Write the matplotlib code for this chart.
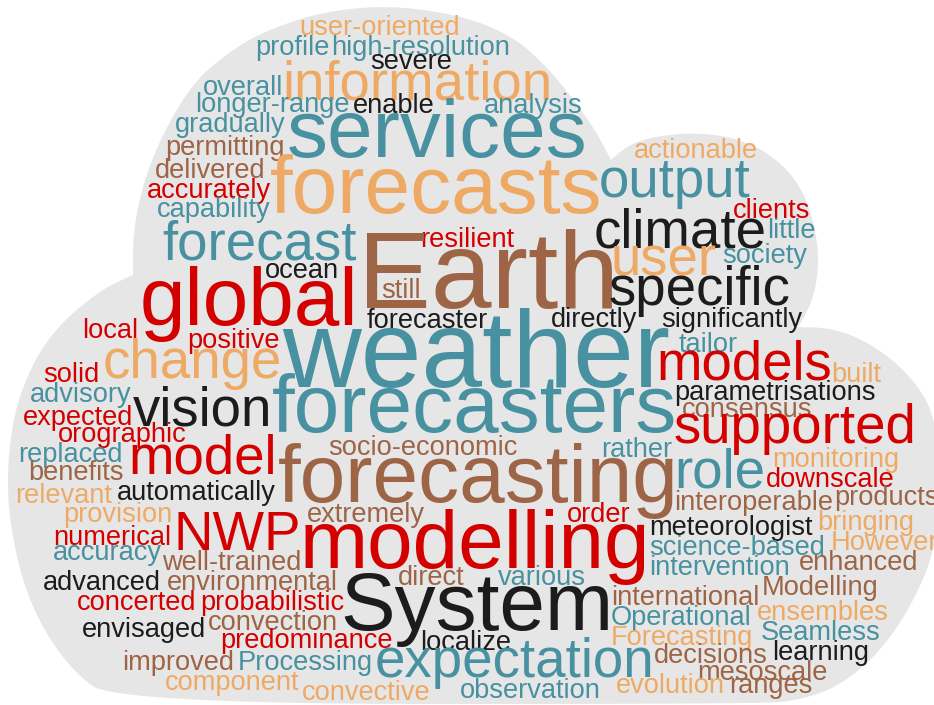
import matplotlib
matplotlib.use("Agg")
import matplotlib.pyplot as plt
import numpy as np
from matplotlib.patches import Polygon

# ---------------- data ----------------
words = ["user-oriented", "profile", "high-resolution", "severe", "information", "overall",
         "longer-range", "enable", "analysis", "gradually", "services", "permitting",
         "delivered", "actionable", "forecasts", "accurately", "output", "capability",
         "clients", "climate", "little", "forecast", "resilient", "Earth", "ocean", "user",
         "society", "global", "still", "specific", "local", "forecaster", "directly",
         "significantly", "positive", "weather", "tailor", "change", "models", "built",
         "solid", "advisory", "parametrisations", "vision", "forecasters", "consensus",
         "expected", "supported", "orographic", "replaced", "socio-economic", "rather",
         "model", "monitoring", "benefits", "forecasting", "role", "downscale", "relevant",
         "automatically", "interoperable", "products", "provision", "extremely", "order",
         "NWP", "modelling", "bringing", "numerical", "meteorologist", "However", "accuracy",
         "science-based", "well-trained", "intervention", "enhanced", "advanced",
         "environmental", "direct", "various", "Modelling", "concerted", "probabilistic",
         "System", "international", "Operational", "ensembles", "envisaged", "convection",
         "Forecasting", "Seamless", "predominance", "localize", "improved", "Processing",
         "expectation", "decisions", "learning", "mesoscale", "component", "convective",
         "observation", "evolution", "ranges"]

counts = [1, 1, 1, 1, 2, 1,
          1, 1, 1, 1, 3, 1,
          1, 1, 3, 1, 2, 1,
          1, 2, 1, 2, 1, 4, 1, 2,
          1, 3, 1, 2, 1, 1, 1,
          1, 1, 4, 1, 2, 2, 1,
          1, 1, 1, 2, 3, 1,
          1, 2, 1, 1, 1, 1,
          2, 1, 1, 3, 2, 1, 1,
          1, 1, 1, 1, 1, 1,
          2, 3, 1, 1, 1, 1, 1,
          1, 1, 1, 1, 1,
          1, 1, 1, 1, 1, 1,
          3, 1, 1, 1, 1, 1,
          1, 1, 1, 1, 1, 1,
          2, 1, 1, 1, 1, 1,
          1, 1, 1]

groups = ["O", "T", "T", "K", "O", "T",
          "T", "K", "T", "T", "T", "B",
          "B", "O", "O", "R", "T", "T",
          "R", "K", "T", "T", "R", "B", "K", "O",
          "T", "R", "B", "K", "R", "K", "K",
          "K", "R", "T", "T", "O", "R", "O",
          "R", "T", "K", "K", "T", "B",
          "R", "R", "R", "T", "B", "T",
          "R", "O", "B", "B", "T", "R", "O",
          "K", "B", "B", "O", "B", "R",
          "R", "R", "O", "R", "K", "O", "T",
          "T", "B", "T", "B", "K",
          "B", "B", "T", "B", "R", "R",
          "K", "B", "T", "O", "K", "B",
          "O", "T", "R", "K", "B", "T",
          "T", "B", "K", "B", "O", "O",
          "T", "O", "B"]

# ---------------- layout (left edge, baseline in pixels) ----------------
pos_x = [299, 255, 331, 370, 282, 203,
         195, 353, 484, 175, 287, 165,
         155, 634, 270, 147, 599, 157,
         733, 594, 767, 162, 420, 358, 265, 611,
         722, 140, 381, 609, 82, 367, 551,
         661, 187, 282, 679, 103, 656, 831,
         43, 30, 674, 133, 272, 682,
         23, 674, 58, 18, 328, 601,
         128, 772, 28, 278, 674, 766, 15,
         117, 674, 834, 63, 307, 567,
         173, 300, 817, 53, 649, 831, 53,
         649, 162, 649, 799, 43,
         167, 398, 498, 762, 77, 200,
         340, 611, 611, 757, 82, 208,
         611, 761, 220, 420, 122, 238,
         375, 654, 772, 697, 165, 302,
         460, 616, 729]

pos_y = [35, 55, 55, 69, 100, 95,
         112, 113, 113, 132, 157, 155,
         178, 158, 213, 198, 197, 217,
         218, 247, 238, 260, 247, 308, 278, 275,
         263, 325, 298, 305, 338, 328, 327,
         327, 348, 387, 352, 378, 380, 382,
         382, 402, 400, 425, 432, 417,
         425, 443, 442, 462, 455, 457,
         473, 467, 480, 502, 488, 487, 503,
         500, 510, 505, 522, 522, 522,
         550, 568, 530, 545, 535, 550, 560,
         555, 570, 575, 570, 590,
         590, 585, 585, 595, 610, 610,
         630, 605, 625, 620, 637, 630,
         645, 640, 648, 650, 670, 670,
         677, 663, 660, 680, 690, 700,
         698, 693, 693]

palette = {"T": "#4891a0", "O": "#eeaa64", "B": "#9d6445", "R": "#d40000", "K": "#1c1c1c"}
EM_PER_COUNT = 27.3  # pixels of em-size per occurrence

# cloud outline: three lobes meeting at sharp cusps
cloud_arcs = [
    [(133, 275), (133, 233), (143, 183), (163, 133), (193, 83), (225, 55), (260, 33),
     (320, 12), (390, 5), (464, 16), (514, 37), (547, 67), (574, 100), (597, 133), (611, 160)],
    [(611, 160), (631, 143), (664, 135), (697, 133), (731, 137), (764, 150), (791, 173),
     (807, 200), (816, 233), (819, 263), (814, 297), (801, 323), (797, 327)],
    [(797, 327), (831, 328), (864, 340), (897, 363), (921, 390), (934, 417), (945, 480),
     (934, 553), (914, 600), (891, 637), (864, 667), (831, 690), (797, 700), (764, 704),
     (117, 704), (67, 667), (27, 600), (8, 517), (8, 450), (20, 390), (50, 333),
     (100, 290), (133, 275)],
]


def chaikin(points, n_iter=4):
    p = np.asarray(points, dtype=float)
    for _ in range(n_iter):
        q = 0.75 * p[:-1] + 0.25 * p[1:]
        r = 0.25 * p[:-1] + 0.75 * p[1:]
        mid = np.empty((2 * len(q), 2))
        mid[0::2] = q
        mid[1::2] = r
        p = np.vstack([p[:1], mid, p[-1:]])
    return p


outline = np.vstack([chaikin(a) for a in cloud_arcs])

# ---------------- drawing ----------------
W, H = 934, 705
fig = plt.figure(figsize=(W / 100, H / 100), dpi=100)
fig.patch.set_facecolor("white")
ax = fig.add_axes([0, 0, 1, 1])
ax.set_xlim(0, W)
ax.set_ylim(H, 0)
ax.axis("off")

ax.add_patch(Polygon(outline, closed=True, facecolor="#e6e6e6", edgecolor="none", zorder=0))

for w, c, g, x, y in zip(words, counts, groups, pos_x, pos_y):
    ax.text(x, y, w, fontsize=c * EM_PER_COUNT * 0.72, color=palette[g],
            family="Liberation Sans", ha="left", va="baseline", zorder=2)

fig.savefig("out.png", dpi=100, facecolor="white")
